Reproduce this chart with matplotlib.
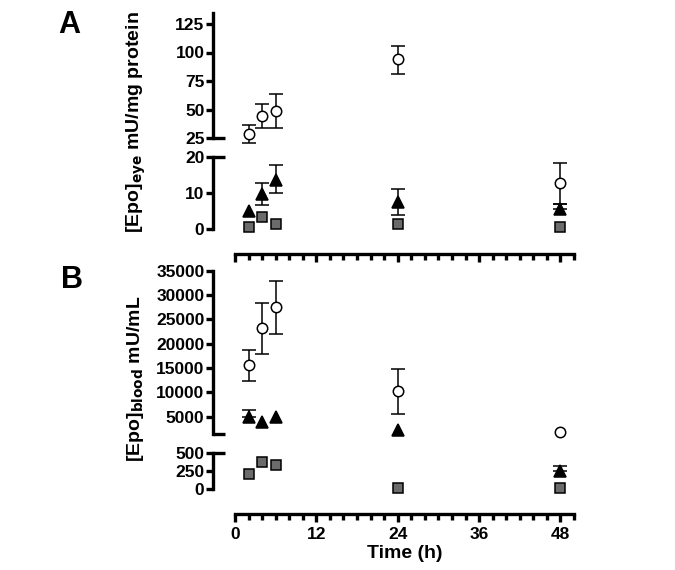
import numpy as np
import matplotlib
matplotlib.use("Agg")
import matplotlib.pyplot as plt
from matplotlib.ticker import MultipleLocator, FixedLocator

plt.rcParams['font.family'] = ['Liberation Sans', 'DejaVu Sans']
plt.rcParams['font.weight'] = 'bold'
plt.rcParams['mathtext.default'] = 'bf'

# time points (h)
time = [2, 4, 6, 24, 48]

# Panel A: [Epo] in eye, mU/mg protein
eye_circle = [28.5, 44.3, 48.7, 94.0, 12.8]
eye_circle_lo = [7.5, 10.5, 15.0, 12.5, 5.8]
eye_circle_hi = [7.5, 10.5, 15.0, 12.0, 5.6]
eye_tri = [5.1, 9.6, 13.6, 7.5, 5.6]
eye_tri_lo = [0, 2.8, 3.6, 3.6, 0]
eye_tri_hi = [0, 3.2, 4.3, 3.6, 1.3]
eye_sq = [0.6, 3.3, 1.4, 1.4, 0.6]

# Panel B: [Epo] in blood, mU/mL
blood_circle = [15600, 23200, 27500, 10200, 1800]
blood_circle_lo = [3300, 5400, 5600, 4700, 0]
blood_circle_hi = [3200, 5200, 5400, 4500, 0]
blood_tri = [5000, 3850, 5000, 2260, 250]
blood_tri_lo = [0, 0, 0, 0, 0]
blood_tri_hi = [1350, 0, 0, 0, 70]
blood_sq = [205, 373, 332, 14, 14]

W, H = 675, 570
fig = plt.figure(figsize=(W / 100, H / 100), dpi=100)

def fax(x0, x1, ytop, ybot):
    return fig.add_axes([x0 / W, 1 - ybot / H, (x1 - x0) / W, (ybot - ytop) / H])

x0, x1 = 235, 574
axA_up = fax(x0, x1, 12.6, 138)
axA_lo = fax(x0, x1, 157, 229)
axB_up = fax(x0, x1, 270.7, 434.2)
axB_lo = fax(x0, x1, 452.7, 489.3)

LW = 2.4

def style(ax, ylim, yticks, bottom_axis=False, break_top=False, break_bottom=False):
    ax.set_xlim(0, 50)
    ax.set_ylim(*ylim)
    ax.patch.set_alpha(0)
    for s in ['top', 'right']:
        ax.spines[s].set_visible(False)
    ax.spines['left'].set_position(('outward', 16))
    ax.spines['left'].set_linewidth(LW)
    ax.yaxis.set_major_locator(FixedLocator(yticks))
    ax.tick_params(axis='y', length=5, width=LW, labelsize=12.5, pad=1)
    if bottom_axis:
        ax.spines['bottom'].set_position(('outward', 18))
        ax.spines['bottom'].set_linewidth(LW)
        ax.xaxis.set_major_locator(MultipleLocator(12))
        ax.xaxis.set_minor_locator(MultipleLocator(2))
        ax.tick_params(axis='x', which='major', length=6, width=LW, labelsize=12.5, pad=3)
        ax.tick_params(axis='x', which='minor', length=4, width=LW)
    else:
        ax.spines['bottom'].set_visible(False)
        ax.tick_params(axis='x', which='both', bottom=False, labelbottom=False)
    # break caps on spine ends
    tr = ax.get_yaxis_transform()
    off = -16 / ((x1 - x0))
    for flag, yv in [(break_top, ylim[1]), (break_bottom, ylim[0])]:
        if flag:
            ax.plot([off - 6 / (x1 - x0), off + 6 / (x1 - x0)], [yv, yv], color='black',
                    lw=LW, transform=tr, clip_on=False, solid_capstyle='butt')

style(axA_up, (25, 135), [25, 50, 75, 100, 125], break_bottom=True)
style(axA_lo, (0, 20), [0, 10, 20], bottom_axis=True, break_top=True)
axA_lo.set_xticklabels([])
style(axB_up, (1400, 35000), [5000, 10000, 15000, 20000, 25000, 30000, 35000], break_bottom=True)
style(axB_lo, (0, 500), [0, 250, 500], bottom_axis=True, break_top=True)
axB_lo.set_xlabel('Time (h)', fontsize=14, fontweight='bold', labelpad=2)

def draw(ax_up, ax_lo, split, y, lo, hi, marker, face, ms):
    for t, v, l, h in zip(time, y, lo, hi):
        ax = ax_up if v > split else ax_lo
        if l or h:
            eb = ax.errorbar([t], [v], yerr=[[l], [h]], fmt='none', ecolor='black',
                             elinewidth=1.1, capsize=5, capthick=1.1, zorder=2)
            for a in eb.get_children():
                a.set_clip_on(False)
        ax.plot([t], [v], marker=marker, ms=ms, mfc=face, mec='black', mew=1.1,
                ls='none', zorder=3, clip_on=False)

zeros = [0] * len(time)
draw(axA_up, axA_lo, 22, eye_circle, eye_circle_lo, eye_circle_hi, 'o', 'white', 7.5)
draw(axA_up, axA_lo, 22, eye_tri, eye_tri_lo, eye_tri_hi, '^', 'black', 8)
draw(axA_up, axA_lo, 22, eye_sq, zeros, zeros, 's', '#6b6b6b', 7)
draw(axB_up, axB_lo, 1000, blood_circle, blood_circle_lo, blood_circle_hi, 'o', 'white', 7.5)
draw(axB_up, axB_lo, 1000, blood_tri, blood_tri_lo, blood_tri_hi, '^', 'black', 8)
draw(axB_up, axB_lo, 1000, blood_sq, zeros, zeros, 's', '#6b6b6b', 7)

fig.text(136 / W, 1 - 122 / H, r'[Epo]$_{\mathbf{eye}}$ mU/mg protein', rotation=90,
         ha='center', va='center', fontsize=14)
fig.text(136 / W, 1 - 379 / H, r'[Epo]$_{\mathbf{blood}}$ mU/mL', rotation=90,
         ha='center', va='center', fontsize=14)
fig.text(69 / W, 1 - 25 / H, 'A', fontsize=22, fontweight='bold', ha='center', va='center')
fig.text(72 / W, 1 - 280 / H, 'B', fontsize=22, fontweight='bold', ha='center', va='center')

fig.savefig('out.png', dpi=100)
